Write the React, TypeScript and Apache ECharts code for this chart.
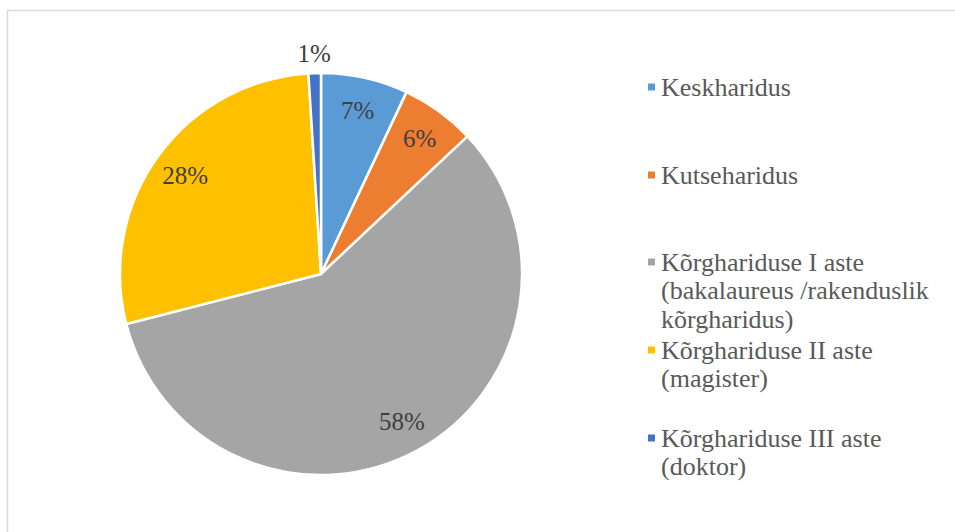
import React, { useEffect, useRef } from "react";
import * as echarts from "echarts";

const categories = [
  "Keskharidus",
  "Kutseharidus",
  "Kõrghariduse I aste (bakalaureus /rakenduslik kõrgharidus)",
  "Kõrghariduse II aste (magister)",
  "Kõrghariduse III aste (doktor)",
];
const values = [7, 6, 58, 28, 1];
const colors = ["#5B9BD5", "#ED7D31", "#A5A5A5", "#FFC000", "#4472C4"];
const legendLines = [
  ["Keskharidus"],
  ["Kutseharidus"],
  ["Kõrghariduse I aste", "(bakalaureus /rakenduslik", "kõrgharidus)"],
  ["Kõrghariduse II aste", "(magister)"],
  ["Kõrghariduse III aste", "(doktor)"],
];
// which slices carry their label outside the pie
const outsideLabel = [false, false, false, false, true];

const FONT = "Liberation Serif";
const LH = 28.5;
const legendCenters = [87, 175, 262, 350, 438];

export default function App() {
  const ref = useRef<HTMLDivElement>(null);
  useEffect(() => {
    document.body.style.margin = "0";
    const chart = echarts.init(ref.current!, null, { renderer: "svg" });
    const center = [321, 274];
    const pctFmt = (p: any) => `${Math.round(p.percent)}%`;
    const labelStyle = {
      fontFamily: FONT,
      fontSize: 25,
      color: "#404040",
    };
    const legends = categories.map((name, i) => {
      const n = legendLines[i].length;
      return {
        orient: "vertical",
        left: 646,
        top: legendCenters[i] - ((2 * n - 1) * LH) / 2,
        padding: 0,
        icon: "rect",
        itemWidth: 9,
        itemHeight: 9,
        selectedMode: false,
        data: [name],
        // blank lines above keep the first line level with the marker
        formatter: () => "\n".repeat(n - 1) + legendLines[i].join("\n"),
        textStyle: {
          fontFamily: FONT,
          fontSize: 26,
          color: "#595959",
          lineHeight: LH,
        },
      };
    });
    chart.setOption({
      animation: false,
      color: colors,
      textStyle: { fontFamily: FONT },
      graphic: [
        {
          type: "rect",
          shape: { x: 7.5, y: 10.5, width: 1200, height: 800 },
          style: { fill: "none", stroke: "#d9d9d9", lineWidth: 1.5 },
          silent: true,
        },
      ],
      legend: legends,
      series: [
        {
          type: "pie",
          center,
          radius: [0, 201],
          startAngle: 90,
          clockwise: true,
          silent: true,
          itemStyle: { borderColor: "#ffffff", borderWidth: 2.5 },
          label: { show: false },
          labelLine: { show: false },
          data: categories.map((name, i) => ({ name, value: values[i] })),
        },
        {
          type: "pie",
          center,
          radius: [130, 200],
          startAngle: 90,
          clockwise: true,
          silent: true,
          itemStyle: { color: "rgba(0,0,0,0)" },
          label: { show: true, position: "inside", formatter: pctFmt, ...labelStyle },
          labelLine: { show: false },
          data: categories.map((name, i) => ({
            name,
            value: values[i],
            label: { show: !outsideLabel[i], ...labelStyle },
          })),
        },
        {
          type: "pie",
          center,
          radius: [198, 238],
          startAngle: 90,
          clockwise: true,
          silent: true,
          itemStyle: { color: "rgba(0,0,0,0)" },
          label: { show: true, position: "inside", formatter: pctFmt, ...labelStyle },
          labelLine: { show: false },
          data: categories.map((name, i) => ({
            name,
            value: values[i],
            label: { show: outsideLabel[i], ...labelStyle },
          })),
        },
      ],
    });
    return () => chart.dispose();
  }, []);
  return <div ref={ref} style={{ width: 955, height: 532 }} />;
}
